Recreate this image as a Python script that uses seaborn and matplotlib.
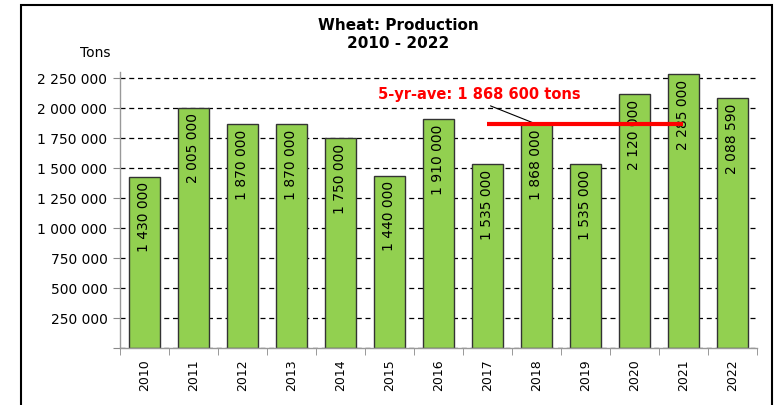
import numpy as np
import matplotlib
matplotlib.use('Agg')
import matplotlib.pyplot as plt
import seaborn as sns
from matplotlib.patches import Rectangle
from matplotlib.ticker import FuncFormatter

# 数据
years = ['2010', '2011', '2012', '2013', '2014', '2015', '2016',
         '2017', '2018', '2019', '2020', '2021', '2022']
production = [1430000, 2005000, 1870000, 1870000, 1750000, 1440000, 1910000,
              1535000, 1868000, 1535000, 2120000, 2285000, 2088590]
avg_years = ['2017', '2018', '2019', '2020', '2021']


def fmt_space(v):
    return f'{int(round(v)):,}'.replace(',', ' ')


avg_val = np.mean([production[years.index(y)] for y in avg_years])

sns.set_style('white')
plt.rcParams['font.family'] = ['DejaVu Sans']
plt.rcParams['text.color'] = 'black'
plt.rcParams['xtick.color'] = 'black'
plt.rcParams['ytick.color'] = 'black'

fig, ax = plt.subplots(figsize=(7.76, 4.05), dpi=100)
fig.subplots_adjust(left=0.1546, right=0.9755, bottom=0.1407, top=0.821)

# 网格线放在柱子后面
ax.set_axisbelow(True)
ax.yaxis.grid(True, color='black', linestyle=(0, (4, 3)), linewidth=0.9)

sns.barplot(x=years, y=production, color='#92D050', saturation=1, width=0.62,
            edgecolor='#333333', linewidth=1, ax=ax)

# 柱内数值标签
for i, v in enumerate(production):
    ax.annotate(fmt_space(v), xy=(i, v), xytext=(0, -4), textcoords='offset points',
                rotation=90, ha='center', va='top', fontsize=10, color='black')

# 5年平均线
i0, i1 = years.index(avg_years[0]), years.index(avg_years[-1])
ax.hlines(avg_val, i0, i1, color='red', linewidth=3, zorder=10)
ax.annotate(f'5-yr-ave: {fmt_space(avg_val)} tons', xy=(i0 + 1, avg_val),
            xytext=(6.84, 2120000), ha='center', va='center',
            fontsize=10.5, fontweight='bold', color='red',
            arrowprops=dict(arrowstyle='-', color='black', lw=0.8,
                            relpos=(0.5, 0), shrinkA=2, shrinkB=0))

# 坐标轴
ax.set_ylim(0, 2300000)
ax.set_xlim(-0.5, len(years) - 0.5)
ax.set_yticks(np.arange(0, 2250001, 250000))
ax.yaxis.set_major_formatter(FuncFormatter(lambda v, p: '' if v == 0 else fmt_space(v)))
ax.tick_params(axis='y', direction='out', length=5, color='#888888', labelcolor='black',
               labelsize=10, pad=4, left=True)
ax.set_xticks(range(len(years)))
ax.set_xticklabels(years, rotation=90, fontsize=9)
ax.set_xticks(np.arange(-0.5, len(years), 1), minor=True)
ax.tick_params(axis='x', which='major', length=0, pad=8, labelcolor='black')
ax.tick_params(axis='x', which='minor', direction='out', length=5, color='#888888', bottom=True)
ax.set_xlabel('')
ax.set_ylabel('')

sns.despine(ax=ax)
for s in ['left', 'bottom']:
    ax.spines[s].set_color('#999999')
    ax.spines[s].set_linewidth(1)

# 标题和单位
fig.text(0.513, 0.915, 'Wheat: Production\n2010 - 2022', ha='center', va='center',
         fontsize=11, fontweight='bold', linespacing=1.3, color='black')
fig.text(0.103, 0.868, 'Tons', ha='left', va='center', fontsize=10, color='black')

# 外框
fig.add_artist(Rectangle((21 / 776, -0.1), 751 / 776, 1.1 - 5 / 405, transform=fig.transFigure,
                         fill=False, edgecolor='black', linewidth=1.5))

plt.savefig('out.png', dpi=100)
